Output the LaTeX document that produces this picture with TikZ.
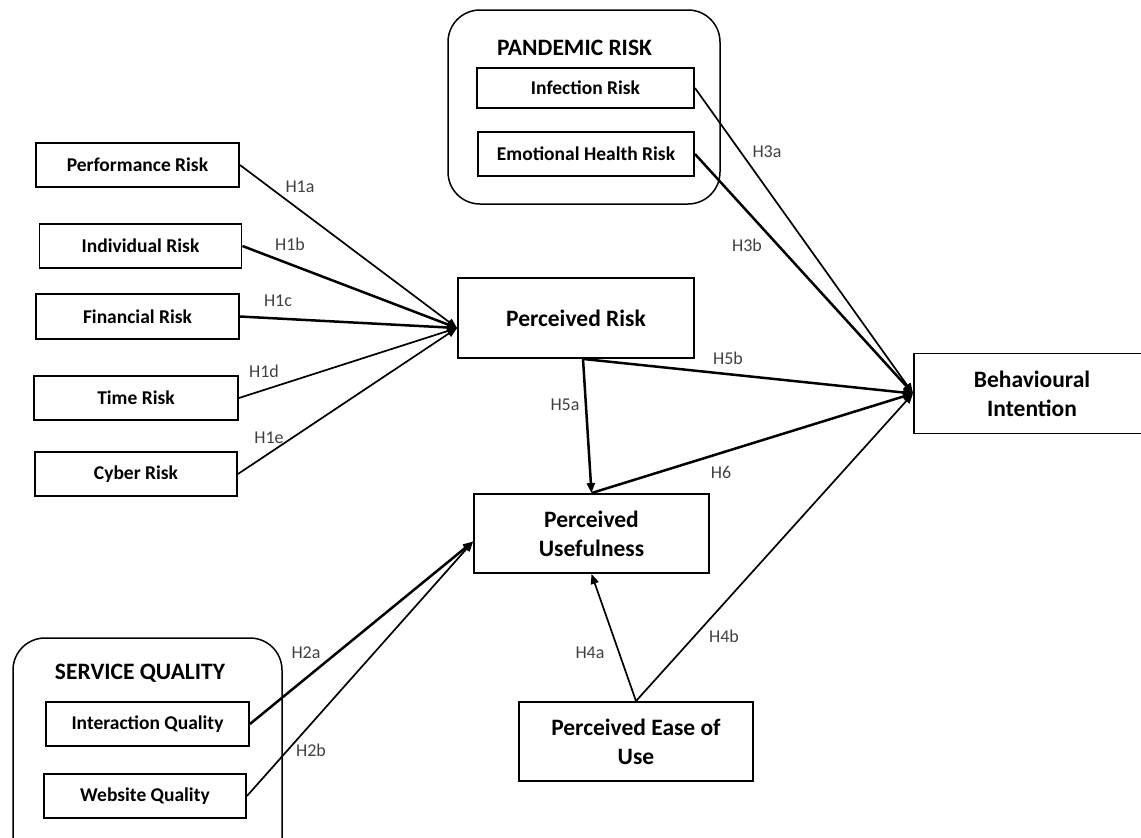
\documentclass[tikz,border=0pt]{standalone}
\usepackage{fontspec}
\setmainfont{Carlito}
\usetikzlibrary{arrows.meta}

\begin{document}
\begin{tikzpicture}[x=1pt, y=-1pt,
    box/.style={draw, line width=1.9pt, inner sep=0pt, align=center, font=\bfseries\fontsize{19.5}{22}\selectfont},
    bigbox/.style={box, font=\bfseries\fontsize{23.5}{29}\selectfont},
    grouptitle/.style={font=\bfseries\fontsize{23.5}{26}\selectfont},
    group/.style={draw, line width=1.5pt, rounded corners=32pt},
    hyp/.style={text=black!75, font=\fontsize{18}{20}\selectfont},
    link/.style={line width=1.7pt, -{Triangle[length=10pt,width=8pt]}},
    heavylink/.style={link, line width=2.5pt}]

    \useasboundingbox (0,0) rectangle (1141,838);

    % Groups
    \draw[group] (448,10) rectangle (720,204);
    \draw[group] (13,638) rectangle (282,880);
    \node[grouptitle] (pandemic) at (574.5,48) {PANDEMIC RISK};
    \node[grouptitle] (service) at (140,673) {SERVICE QUALITY};

    % Risk dimensions
    \node[box, minimum width=203pt, minimum height=44pt] (perf) at (137.5,165) {Performance Risk};
    \node[box, minimum width=202pt, minimum height=44pt] (indiv) at (140.5,246) {Individual Risk};
    \node[box, minimum width=203pt, minimum height=45pt] (fin) at (137.5,316.5) {Financial Risk};
    \node[box, minimum width=204pt, minimum height=44pt] (time) at (136,398) {Time Risk};
    \node[box, minimum width=202pt, minimum height=44pt] (cyber) at (136,474) {Cyber Risk};

    % Pandemic risk and service quality
    \node[box, minimum width=217pt, minimum height=40pt] (infect) at (585.5,88) {Infection Risk};
    \node[box, minimum width=216pt, minimum height=44pt] (emo) at (586,154) {Emotional Health Risk};
    \node[box, minimum width=203pt, minimum height=44pt] (inter) at (147.5,724) {Interaction Quality};
    \node[box, minimum width=202pt, minimum height=44pt] (web) at (145,796) {Website Quality};

    % Main constructs
    \node[bigbox, minimum width=236pt, minimum height=80pt] (pr) at (576,318) {Perceived Risk};
    \node[bigbox, minimum width=236pt, minimum height=80pt] (bi) at (1032,393.5) {Behavioural\\Intention};
    \node[bigbox, minimum width=235pt, minimum height=79pt] (pu) at (591.5,533.5) {Perceived\\Usefulness};
    \node[bigbox, minimum width=234pt, minimum height=79pt] (peou) at (636,741.5) {Perceived Ease of\\Use};

    \coordinate (prin) at ([yshift=-10pt]pr.west);
    \coordinate (prout) at ([xshift=7pt]pr.south);
    \coordinate (puin) at ([yshift=-8pt]pu.west);

    % H1
    \draw[link] (perf.east) -- (prin);
    \draw[heavylink] (indiv.east) -- (prin);
    \draw[heavylink] (fin.east) -- (prin);
    \draw[link] (time.east) -- (prin);
    \draw[link] (cyber.east) -- (prin);

    % H2, H3
    \draw[heavylink] (inter.east) -- (puin);
    \draw[link] (web.east) -- (puin);
    \draw[link] (infect.east) -- (bi.west);
    \draw[heavylink] (emo.east) -- (bi.west);

    % H4, H5, H6
    \draw[link] (peou.north) -- (pu.south);
    \draw[link] (peou.north) -- (bi.west);
    \draw[heavylink] (prout) -- (pu.north);
    \draw[heavylink] (prout) -- (bi.west);
    \draw[heavylink] (pu.north) -- (bi.west);

    % Hypothesis labels
    \node[hyp] (h1a) at (300,187) {H1a};
    \node[hyp] (h1b) at (290,244) {H1b};
    \node[hyp] (h1c) at (278,301) {H1c};
    \node[hyp] (h1d) at (264,371) {H1d};
    \node[hyp] (h1e) at (269,438) {H1e};
    \node[hyp] (h2a) at (306,653) {H2a};
    \node[hyp] (h2b) at (311,750) {H2b};
    \node[hyp] (h3a) at (767,152) {H3a};
    \node[hyp] (h3b) at (747,245) {H3b};
    \node[hyp] (h4a) at (590,653) {H4a};
    \node[hyp] (h4b) at (724,636) {H4b};
    \node[hyp] (h5a) at (565,405) {H5a};
    \node[hyp] (h5b) at (728,358) {H5b};
    \node[hyp] (h6) at (721,472) {H6};
\end{tikzpicture}
\end{document}
